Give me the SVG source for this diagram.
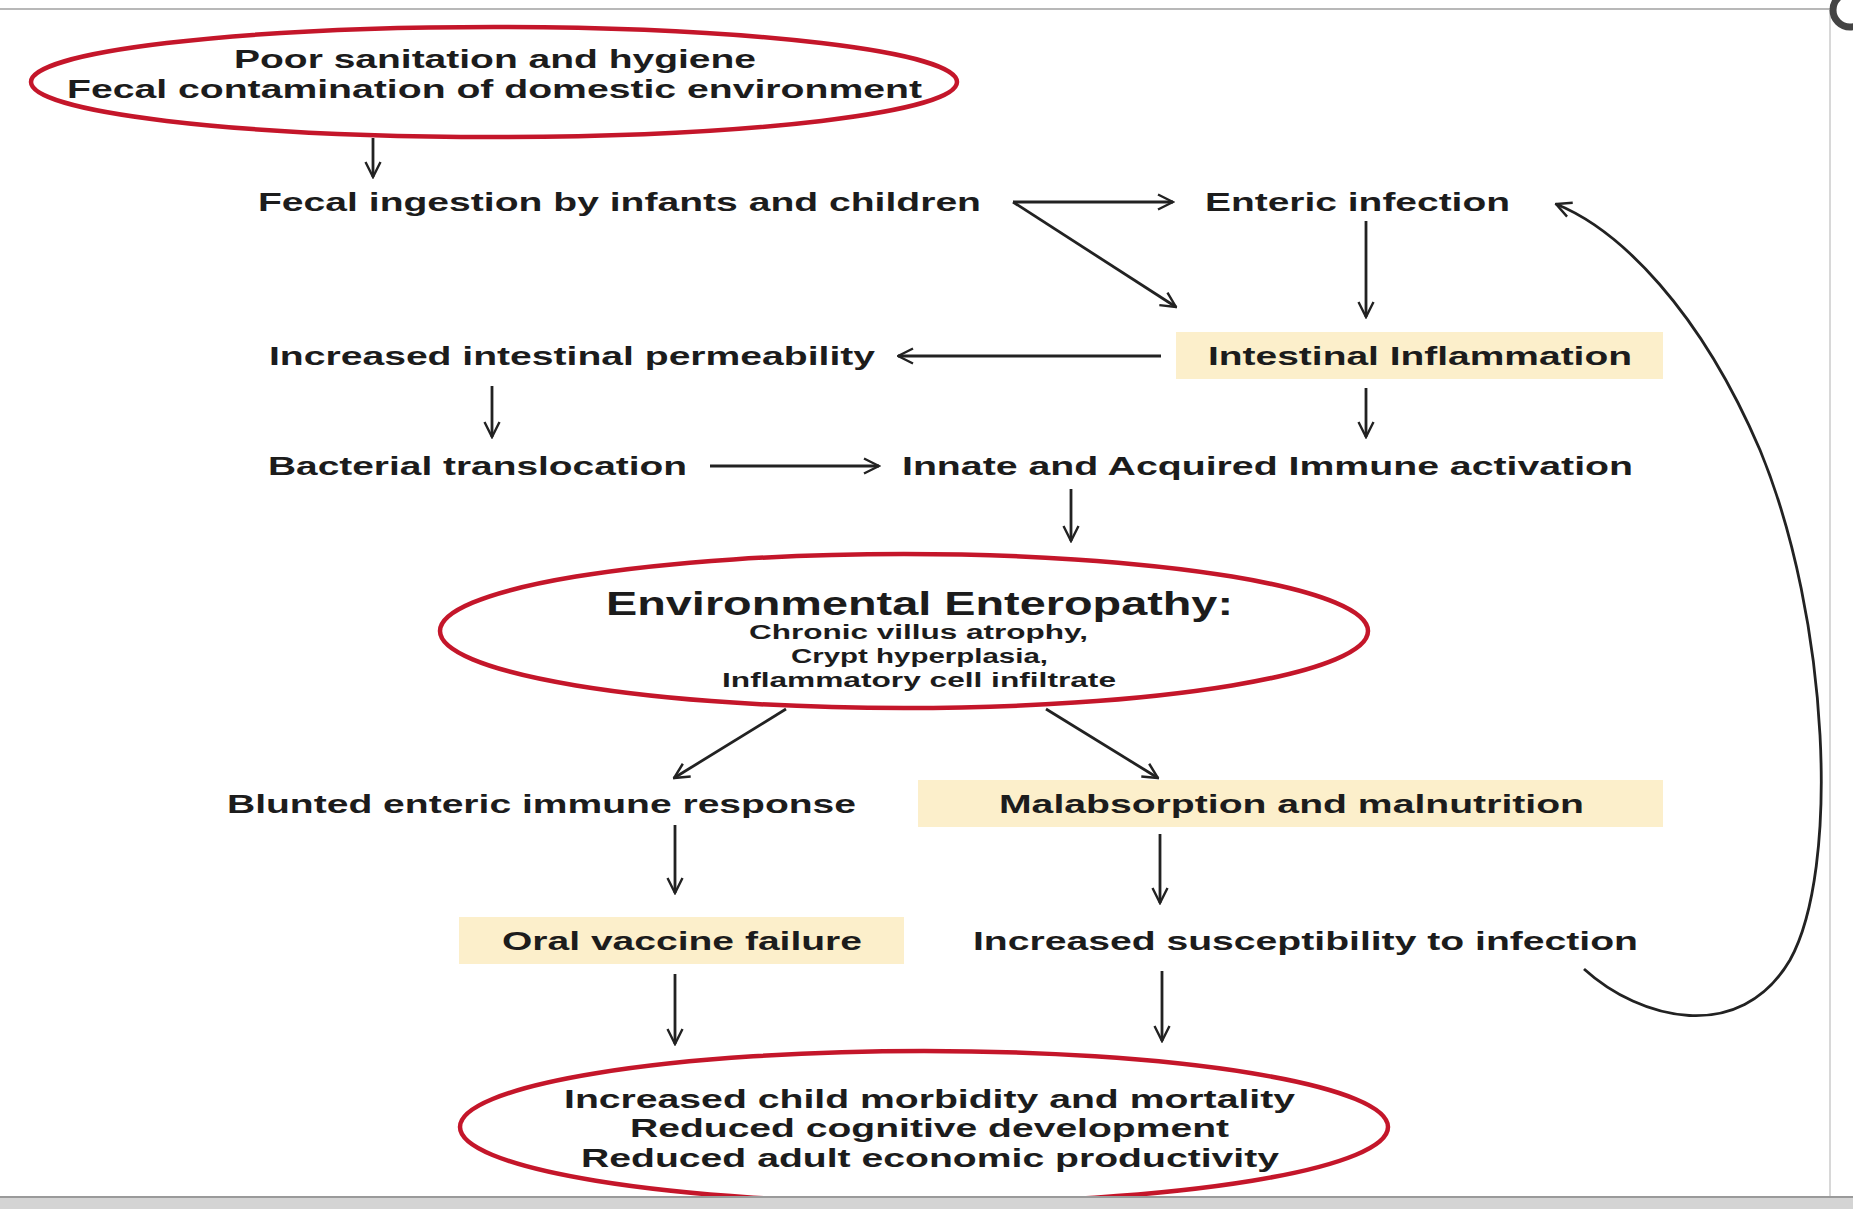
<svg xmlns="http://www.w3.org/2000/svg" width="1853" height="1209" viewBox="0 0 1853 1209">
<defs>
<style>
.t{font-family:"Liberation Sans",Arial,sans-serif;font-weight:bold;fill:#1c1c1c;font-size:25px}
.big{font-size:34px}
.sm{font-size:20px}
.md{font-size:26px}
.ell{fill:none;stroke:#c4162a;stroke-width:4.5}
.box{fill:#fcefcb}
.c{fill:none;stroke:#222;stroke-width:2.8}
</style>
<marker id="ah" viewBox="0 0 12 12" refX="11" refY="6" markerWidth="18" markerHeight="18" markerUnits="userSpaceOnUse" orient="auto">
<path d="M1,1 L11,6 L1,11" fill="none" stroke="#222" stroke-width="1.6"/>
</marker>
</defs>
<rect width="1853" height="1209" fill="#ffffff"/>
<line x1="0" y1="9" x2="1835" y2="9" stroke="#b8b8b8" stroke-width="2"/>
<line x1="1830" y1="9" x2="1830" y2="1197" stroke="#d8d8d8" stroke-width="2"/>
<circle cx="1850" cy="10" r="17" fill="none" stroke="#444" stroke-width="7"/>
<g id="n1">
<ellipse class="ell" cx="494" cy="82" rx="463" ry="55"/>
<text class="t" x="234" y="68" textLength="522" lengthAdjust="spacingAndGlyphs">Poor sanitation and hygiene</text>
<text class="t" x="67" y="98" textLength="855" lengthAdjust="spacingAndGlyphs">Fecal contamination of domestic environment</text>
</g>
<g id="n2"><text class="t" x="258" y="211" textLength="723" lengthAdjust="spacingAndGlyphs">Fecal ingestion by infants and children</text></g>
<g id="n3"><text class="t" x="1205" y="211" textLength="305" lengthAdjust="spacingAndGlyphs">Enteric infection</text></g>
<g id="n4"><text class="t" x="269" y="365" textLength="606" lengthAdjust="spacingAndGlyphs">Increased intestinal permeability</text></g>
<g id="n5">
<rect class="box" x="1176" y="332" width="487" height="47"/>
<text class="t" x="1208" y="365" textLength="424" lengthAdjust="spacingAndGlyphs">Intestinal Inflammation</text>
</g>
<g id="n6"><text class="t" x="268" y="475" textLength="419" lengthAdjust="spacingAndGlyphs">Bacterial translocation</text></g>
<g id="n7"><text class="t" x="902" y="475" textLength="731" lengthAdjust="spacingAndGlyphs">Innate and Acquired Immune activation</text></g>
<g id="n8">
<ellipse class="ell" cx="904" cy="631" rx="464" ry="77"/>
<text class="t big" x="606" y="615" textLength="627" lengthAdjust="spacingAndGlyphs">Environmental Enteropathy:</text>
<text class="t sm" x="749" y="639" textLength="339" lengthAdjust="spacingAndGlyphs">Chronic villus atrophy,</text>
<text class="t sm" x="791" y="663" textLength="257" lengthAdjust="spacingAndGlyphs">Crypt hyperplasia,</text>
<text class="t sm" x="722" y="687" textLength="394" lengthAdjust="spacingAndGlyphs">Inflammatory cell infiltrate</text>
</g>
<g id="n9"><text class="t" x="227" y="813" textLength="629" lengthAdjust="spacingAndGlyphs">Blunted enteric immune response</text></g>
<g id="n10">
<rect class="box" x="918" y="780" width="745" height="47"/>
<text class="t" x="999" y="813" textLength="585" lengthAdjust="spacingAndGlyphs">Malabsorption and malnutrition</text>
</g>
<g id="n11">
<rect class="box" x="459" y="917" width="445" height="47"/>
<text class="t" x="502" y="950" textLength="360" lengthAdjust="spacingAndGlyphs">Oral vaccine failure</text>
</g>
<g id="n12"><text class="t" x="973" y="950" textLength="665" lengthAdjust="spacingAndGlyphs">Increased susceptibility to infection</text></g>
<g id="n13">
<ellipse class="ell" cx="924" cy="1127" rx="464" ry="76"/>
<text class="t md" x="564" y="1108" textLength="731" lengthAdjust="spacingAndGlyphs">Increased child morbidity and mortality</text>
<text class="t md" x="630" y="1137" textLength="599" lengthAdjust="spacingAndGlyphs">Reduced cognitive development</text>
<text class="t md" x="581" y="1167" textLength="698" lengthAdjust="spacingAndGlyphs">Reduced adult economic productivity</text>
</g>
<g id="connectors">
<line class="c" x1="373" y1="138" x2="373" y2="177" marker-end="url(#ah)"/>
<line class="c" x1="1013" y1="202" x2="1173" y2="202" marker-end="url(#ah)"/>
<line class="c" x1="1013" y1="202" x2="1176" y2="307" marker-end="url(#ah)"/>
<line class="c" x1="1366" y1="221" x2="1366" y2="317" marker-end="url(#ah)"/>
<line class="c" x1="1161" y1="356" x2="898" y2="356" marker-end="url(#ah)"/>
<line class="c" x1="492" y1="386" x2="492" y2="437" marker-end="url(#ah)"/>
<line class="c" x1="1366" y1="388" x2="1366" y2="437" marker-end="url(#ah)"/>
<line class="c" x1="710" y1="466" x2="879" y2="466" marker-end="url(#ah)"/>
<line class="c" x1="1071" y1="489" x2="1071" y2="541" marker-end="url(#ah)"/>
<line class="c" x1="786" y1="709" x2="674" y2="778" marker-end="url(#ah)"/>
<line class="c" x1="1046" y1="709" x2="1158" y2="778" marker-end="url(#ah)"/>
<line class="c" x1="675" y1="825" x2="675" y2="893" marker-end="url(#ah)"/>
<line class="c" x1="1160" y1="834" x2="1160" y2="903" marker-end="url(#ah)"/>
<line class="c" x1="675" y1="974" x2="675" y2="1044" marker-end="url(#ah)"/>
<line class="c" x1="1162" y1="971" x2="1162" y2="1041" marker-end="url(#ah)"/>
<path class="c" d="M1584,969 C1640,1020 1740,1045 1790,960 C1840,870 1830,620 1760,450 C1700,310 1620,230 1556,204" marker-end="url(#ah)"/>
</g>
<rect x="0" y="1197" width="1853" height="12" fill="#d4d4d4"/>
<line x1="0" y1="1197" x2="1853" y2="1197" stroke="#9a9a9a" stroke-width="2"/>
</svg>
